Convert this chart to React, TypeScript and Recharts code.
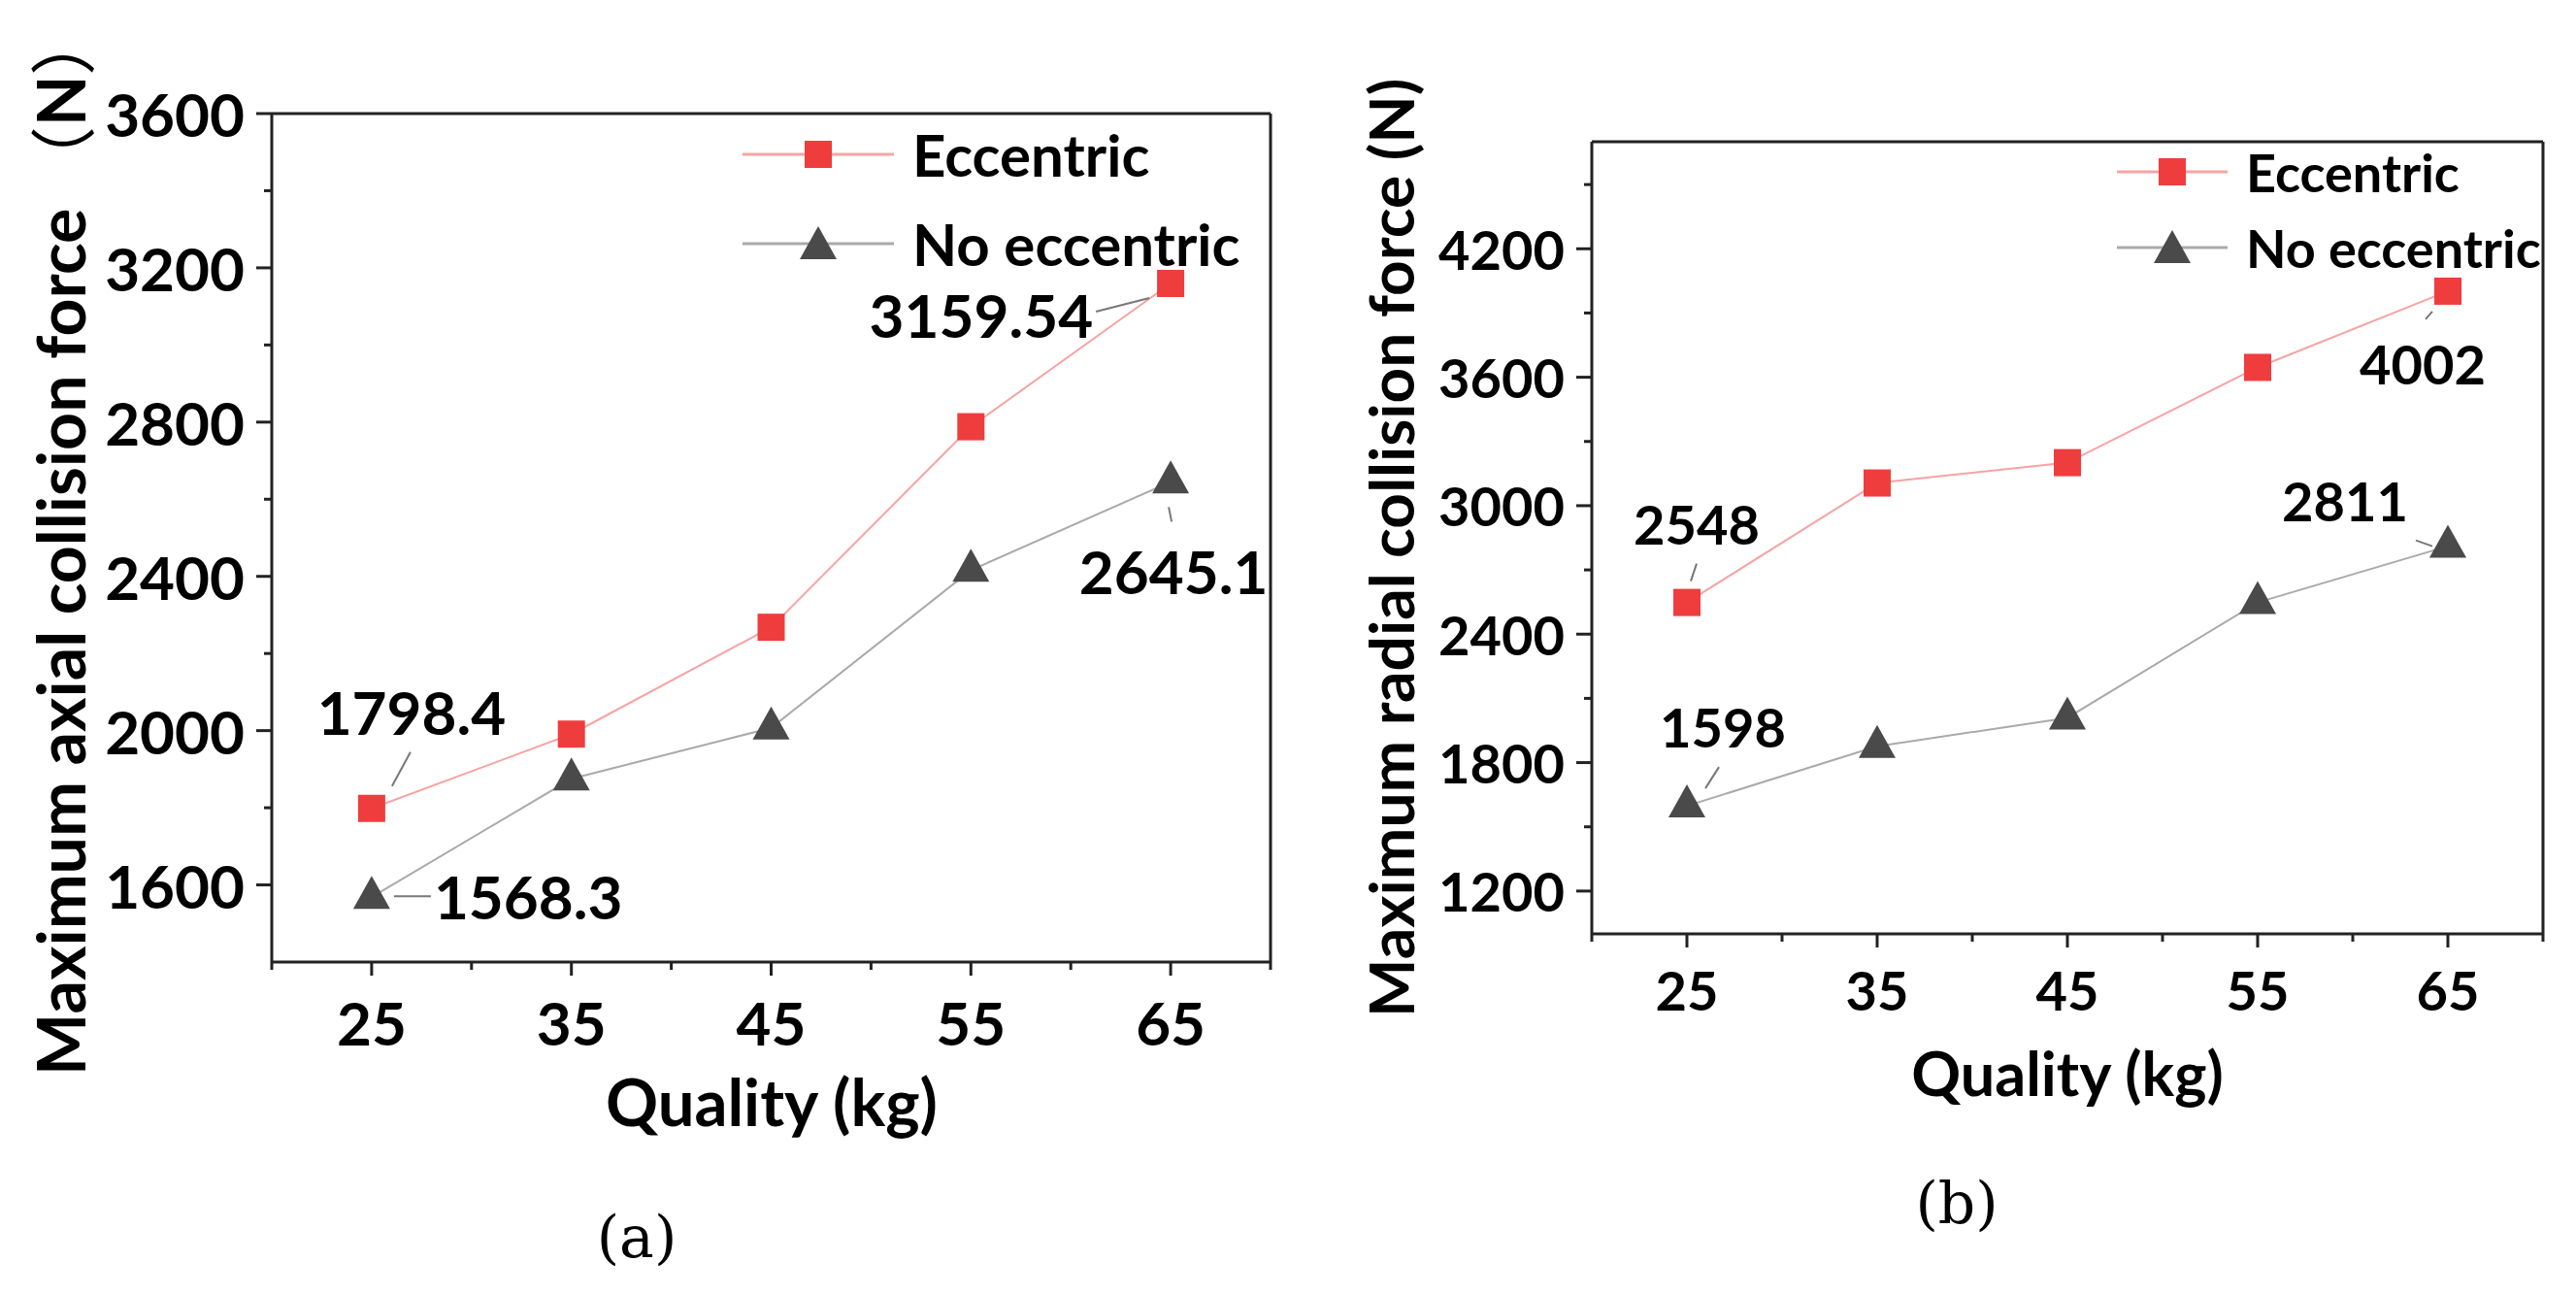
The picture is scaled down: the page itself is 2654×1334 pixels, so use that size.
import { LineChart, Line, XAxis, YAxis, ReferenceLine, Legend, LabelList, Label } from 'recharts';

// x values: mass of the body (kg)
const massKg = [25, 35, 45, 55, 65];

// (a) maximum axial collision force (N)
const axialEccentric = [1798.4, 1991, 2268, 2788, 3159.54];
const axialNoEccentric = [1568.3, 1875, 2007, 2416, 2645.1];

// (b) maximum radial collision force (N)
const radialEccentric = [2548, 3106, 3201, 3646, 4002];
const radialNoEccentric = [1598, 1876, 2009, 2548, 2811];

const xMajorTicks = [25, 35, 45, 55, 65];
const xMinorTicks = [20, 30, 40, 50, 60, 70];
const axialMajorTicks = [1600, 2000, 2400, 2800, 3200, 3600];
const axialMinorTicks = [1800, 2200, 2600, 3000, 3400];
const radialMajorTicks = [1200, 1800, 2400, 3000, 3600, 4200];
const radialMinorTicks = [1500, 2100, 2700, 3300, 3900, 4500];

const FONT = 'Lato, Calibri, "Noto Sans", sans-serif';
const CJK_FONT = '"Noto Sans CJK SC", "Noto Sans CJK JP", sans-serif';
const RED = '#ef3d3d';
const RED_LINE = '#f7a3a3';
const DARK = '#4a4a4a';
const GRAY_LINE = '#aaaaaa';
const AXIS = '#222';

const buildRows = (ecc: number[], noEcc: number[]) =>
  massKg.map((m, i) => ({ mass: m, eccentric: ecc[i], noEccentric: noEcc[i] }));

const axialRows = buildRows(axialEccentric, axialNoEccentric);
const radialRows = buildRows(radialEccentric, radialNoEccentric);

const SquareDot = (p: any) => (
  <rect key={`sq-${p.index}`} x={p.cx - 14} y={p.cy - 14} width={28} height={28} fill={RED} />
);

const TriangleDot = (p: any) => (
  <polygon
    key={`tr-${p.index}`}
    points={`${p.cx},${p.cy - 22} ${p.cx - 19},${p.cy + 12} ${p.cx + 19},${p.cy + 12}`}
    fill={DARK}
  />
);

function makeYTick(major: number[], fontSize: number) {
  return (p: any) => {
    const v = p.payload.value;
    const isMajor = major.includes(v);
    return (
      <g>
        <line x1={p.x} y1={p.y} x2={p.x - (isMajor ? 16 : 8)} y2={p.y} stroke={AXIS} strokeWidth={3} />
        {isMajor && (
          <text x={p.x - 28} y={p.y} textAnchor="end" dominantBaseline="central"
            fontFamily={FONT} fontWeight={700} fontSize={fontSize} fill="#000">
            {v}
          </text>
        )}
      </g>
    );
  };
}

function makeXTick(major: number[], fontSize: number, labelGap: number) {
  return (p: any) => {
    const v = p.payload.value;
    const isMajor = major.includes(v);
    return (
      <g>
        <line x1={p.x} y1={p.y} x2={p.x} y2={p.y + (isMajor ? 14 : 8)} stroke={AXIS} strokeWidth={3} />
        {isMajor && (
          <text x={p.x} y={p.y + labelGap} textAnchor="middle" dominantBaseline="central"
            fontFamily={FONT} fontWeight={700} fontSize={fontSize} fill="#000">
            {v}
          </text>
        )}
      </g>
    );
  };
}

type Annot = { dx: number; dy: number; anchor: 'start' | 'middle' | 'end'; lead: [number, number, number, number] };

function makeAnnot(annots: Record<number, Annot>, fontSize: number) {
  return (p: any) => {
    const a = annots[p.index];
    if (!a) return null;
    const { x, y } = p;
    return (
      <g>
        <line x1={x + a.lead[0]} y1={y + a.lead[1]} x2={x + a.lead[2]} y2={y + a.lead[3]} stroke="#777" strokeWidth={2} />
        <text x={x + a.dx} y={y + a.dy} textAnchor={a.anchor} dominantBaseline="central"
          fontFamily={FONT} fontWeight={700} fontSize={fontSize} fill="#000">
          {String(p.value)}
        </text>
      </g>
    );
  };
}

function makeLegend(lineX1: number, lineX2: number, rowGap: number, fontSize: number, width: number) {
  return (props: any) => {
    const items = props.payload || [];
    return (
      <svg width={width} height={rowGap * items.length + 60} style={{ display: 'block', overflow: 'visible' }}>
        {items.map((it: any, i: number) => {
          const cy = 50 + i * rowGap;
          const cx = (lineX1 + lineX2) / 2;
          const isEcc = it.dataKey === 'eccentric';
          return (
            <g key={it.value}>
              <line x1={lineX1} y1={cy} x2={lineX2} y2={cy} stroke={isEcc ? RED_LINE : GRAY_LINE} strokeWidth={3} />
              {isEcc ? SquareDot({ cx, cy, index: i }) : TriangleDot({ cx, cy: cy + 4, index: i })}
              <text x={lineX2 + 19} y={cy} dominantBaseline="central"
                fontFamily={FONT} fontWeight={700} fontSize={fontSize} fill="#000">
                {it.value}
              </text>
            </g>
          );
        })}
      </svg>
    );
  };
}

interface PanelProps {
  rows: any[];
  width: number;
  margin: { top: number; right: number; bottom: number; left: number };
  yDomain: [number, number];
  yMajor: number[];
  yMinor: number[];
  tickFont: number;
  xLabelGap: number;
  yTitle: string;
  yUnit: string;
  yUnitCjk: boolean;
  yTitleFont: number;
  yTitleX: number;
  yTitleStart: number;
  xTitleFont: number;
  xTitleX: number;
  xTitleY: number;
  caption: string;
  captionX: number;
  captionY: number;
  legendPos: { left: number; top: number };
  legendLine: [number, number];
  legendGap: number;
  legendFont: number;
  eccAnnots: Record<number, Annot>;
  noEccAnnots: Record<number, Annot>;
}

function Panel(p: PanelProps) {
  const yTicks = [...p.yMajor, ...p.yMinor].sort((a, b) => a - b);
  const xTicks = [...xMajorTicks, ...xMinorTicks].sort((a, b) => a - b);
  return (
    <LineChart width={p.width} height={1334} data={p.rows} margin={p.margin}>
      <XAxis
        type="number"
        dataKey="mass"
        domain={[20, 70]}
        ticks={xTicks}
        interval={0}
        height={100}
        tickSize={0}
        tickMargin={0}
        tickLine={false}
        axisLine={{ stroke: AXIS, strokeWidth: 3 }}
        tick={makeXTick(xMajorTicks, p.tickFont, p.xLabelGap)}
      >
        <Label
          content={() => (
            <g>
              <text x={p.xTitleX} y={p.xTitleY} textAnchor="middle" dominantBaseline="central"
                fontFamily={FONT} fontWeight={700} fontSize={p.xTitleFont} fill="#000">
                Quality (kg)
              </text>
              <text x={p.captionX} y={p.captionY} textAnchor="middle" dominantBaseline="central"
                fontFamily='"DejaVu Serif", "Liberation Serif", serif' fontSize={60} fill="#000">
                {p.caption}
              </text>
            </g>
          )}
        />
      </XAxis>
      <YAxis
        type="number"
        domain={p.yDomain}
        ticks={yTicks}
        interval={0}
        width={120}
        tickSize={0}
        tickMargin={0}
        tickLine={false}
        allowDataOverflow
        axisLine={{ stroke: AXIS, strokeWidth: 3 }}
        tick={makeYTick(p.yMajor, p.tickFont)}
      >
        <Label
          content={() => (
            <text x={p.yTitleX} y={p.yTitleStart} textAnchor="start" dominantBaseline="central"
              transform={`rotate(-90 ${p.yTitleX} ${p.yTitleStart})`}
              fontFamily={FONT} fontWeight={700} fontSize={p.yTitleFont} fill="#000">
              {p.yTitle}
              {p.yUnitCjk ? (
                <>
                  <tspan fontFamily={CJK_FONT} fontWeight={400}>（</tspan>
                  <tspan>N</tspan>
                  <tspan fontFamily={CJK_FONT} fontWeight={400}>）</tspan>
                </>
              ) : (
                <tspan>{p.yUnit}</tspan>
              )}
            </text>
          )}
        />
      </YAxis>
      <ReferenceLine y={p.yDomain[1]} stroke={AXIS} strokeWidth={3} />
      <ReferenceLine x={70} stroke={AXIS} strokeWidth={3} />
      <Legend
        layout="vertical"
        align="center"
        verticalAlign="middle"
        wrapperStyle={{ left: p.legendPos.left, top: p.legendPos.top, width: 600 }}
        content={makeLegend(p.legendLine[0], p.legendLine[1], p.legendGap, p.legendFont, 600)}
      />
      <Line
        type="linear"
        dataKey="eccentric"
        name="Eccentric"
        stroke={RED_LINE}
        strokeWidth={2}
        dot={SquareDot}
        activeDot={false}
        isAnimationActive={false}
      >
        <LabelList dataKey="eccentric" content={makeAnnot(p.eccAnnots, p.tickFont)} />
      </Line>
      <Line
        type="linear"
        dataKey="noEccentric"
        name="No eccentric"
        stroke={GRAY_LINE}
        strokeWidth={2}
        dot={TriangleDot}
        activeDot={false}
        isAnimationActive={false}
      >
        <LabelList dataKey="noEccentric" content={makeAnnot(p.noEccAnnots, p.tickFont)} />
      </Line>
    </LineChart>
  );
}

export default function App() {
  return (
    <div style={{ position: 'absolute', left: 0, top: 0, width: 2654, height: 1334, background: '#fff' }}>
      <div style={{ position: 'absolute', left: 0, top: 0 }}>
        <Panel
          rows={axialRows}
          width={1330}
          margin={{ top: 117, right: 21, bottom: 243, left: 160 }}
          yDomain={[1400, 3600]}
          yMajor={axialMajorTicks}
          yMinor={axialMinorTicks}
          tickFont={62}
          xLabelGap={62}
          yTitle="Maximum axial collision force "
          yUnit="（N）"
          yUnitCjk
          yTitleFont={68}
          yTitleX={61}
          yTitleStart={1108}
          xTitleFont={67}
          xTitleX={795}
          xTitleY={1134}
          caption="(a)"
          captionX={656}
          captionY={1274}
          legendPos={{ left: 745, top: 109 }}
          legendLine={[20, 176]}
          legendGap={92}
          legendFont={60}
          eccAnnots={{
            0: { dx: 41, dy: -100, anchor: 'middle', lead: [40, -58, 21, -23] },
            4: { dx: -80, dy: 32, anchor: 'end', lead: [-77, 29, -22, 15] },
          }}
          noEccAnnots={{
            0: { dx: 64, dy: -1, anchor: 'start', lead: [23, -1, 61, -1] },
            4: { dx: 3, dy: 92, anchor: 'middle', lead: [-2, 26, 1, 41] },
          }}
        />
      </div>
      <div style={{ position: 'absolute', left: 1330, top: 0 }}>
        <Panel
          rows={radialRows}
          width={1324}
          margin={{ top: 146, right: 34, bottom: 272, left: 190 }}
          yDomain={[1000, 4700]}
          yMajor={radialMajorTicks}
          yMinor={radialMinorTicks}
          tickFont={56}
          xLabelGap={57}
          yTitle="Maximum radial collision force "
          yUnit="(N)"
          yUnitCjk={false}
          yTitleFont={64}
          yTitleX={102}
          yTitleStart={1048}
          xTitleFont={63}
          xTitleX={800}
          xTitleY={1104}
          caption="(b)"
          captionX={686}
          captionY={1239}
          legendPos={{ left: 831, top: 127 }}
          legendLine={[20, 134]}
          legendGap={78}
          legendFont={54}
          eccAnnots={{
            0: { dx: 10, dy: -81, anchor: 'middle', lead: [10, -40, 4, -22] },
            4: { dx: -26, dy: 75, anchor: 'middle', lead: [-16, 21, -23, 29] },
          }}
          noEccAnnots={{
            0: { dx: 37, dy: -82, anchor: 'middle', lead: [33, -40, 19, -18] },
            4: { dx: -106, dy: -47, anchor: 'middle', lead: [-33, -6, -16, 0] },
          }}
        />
      </div>
    </div>
  );
}
